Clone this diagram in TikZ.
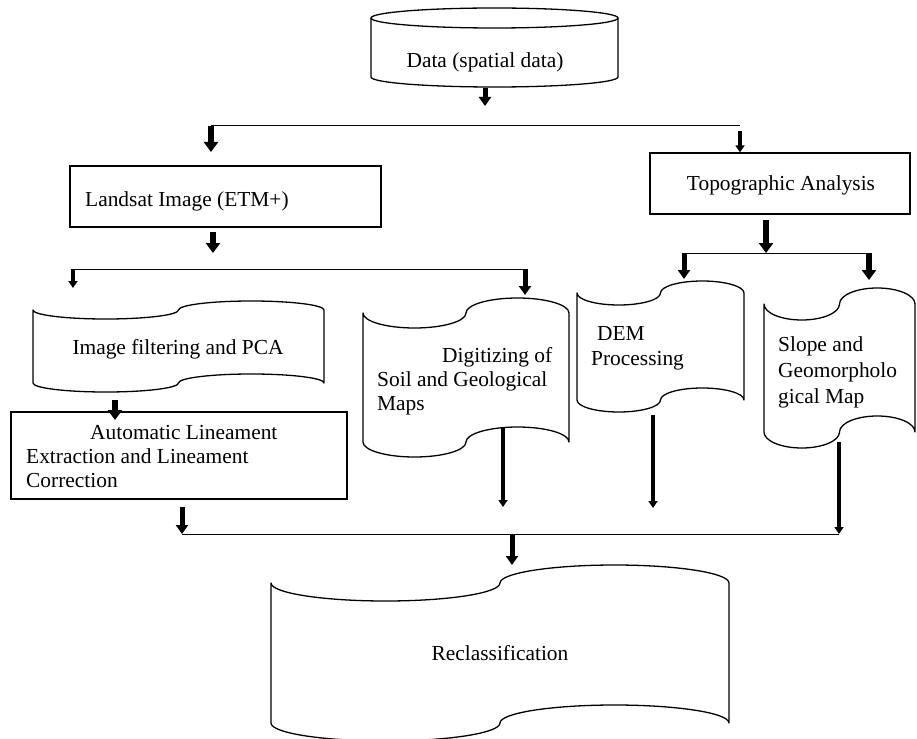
\documentclass[tikz,border=0pt]{standalone}
\usepackage{fontspec}
\setmainfont{Liberation Serif}
\usetikzlibrary{arrows.meta}
\newcommand{\txtlines}[1]{\begin{tabular}[t]{@{}l@{}}#1\end{tabular}}
\newcommand{\flagpath}[5]{%
  \pgfmathsetmacro{\fq}{(#2-#1)/4}%
  \draw[flagline] (#1,#3)
    arc[start angle=180,end angle=0,x radius=\fq,y radius=#5]
    arc[start angle=180,end angle=360,x radius=\fq,y radius=#5]
    -- (#2,#4)
    arc[start angle=0,end angle=-180,x radius=\fq,y radius=#5]
    arc[start angle=0,end angle=180,x radius=\fq,y radius=#5]
    -- cycle;}
\begin{document}
\begin{tikzpicture}[x=1pt,y=-1pt,
  font=\fontsize{21.4}{24}\selectfont,
  flagline/.style={draw=black,line width=1.3pt,line join=round},
  boxnode/.style={draw=black,line width=1.3pt,inner sep=0pt},
  conn/.style={draw=black,line width=1pt},
  arrA/.style={line width=6pt,-{Triangle[width=14pt,length=10pt]}},
  arrB/.style={line width=5pt,-{Triangle[width=12pt,length=9pt]}},
  arrC/.style={line width=3.5pt,-{Triangle[width=9pt,length=7pt]}},
  lbl/.style={inner sep=0pt,anchor=base west},
  lblc/.style={inner sep=0pt,anchor=base}]
\useasboundingbox (0,0) rectangle (917,738);

% ---- top cylinder
\draw[flagline] (494.5,18) ellipse[x radius=123.5,y radius=10];
\draw[flagline] (371,18) -- (371,77)
  arc[start angle=180,end angle=0,x radius=123.5,y radius=10] -- (618,18);
\node[lblc] (data) at (485,68) {Data (spatial data)};

% ---- rectangles
\node[boxnode,minimum width=311pt,minimum height=61pt] (landsat) at (225.5,196.5) {};
\node[lbl] (landsatT) at (85,206) {Landsat Image (ETM+)};
\node[boxnode,minimum width=260pt,minimum height=61pt] (topo) at (780,183.5) {};
\node[lblc] (topoT) at (781,190) {Topographic Analysis};
\node[boxnode,minimum width=336pt,minimum height=87pt] (auto) at (179,455.5) {};
\node[lbl] (autoT) at (26,439) {\txtlines{\hspace*{64pt}Automatic Lineament\\Extraction and Lineament\\Correction}};

% ---- tape shapes
\flagpath{33}{324}{310}{383}{9}
\node[lblc] (pca) at (178,354) {Image filtering and PCA};
\flagpath{363}{569}{313}{442}{15}
\node[lbl] (dig) at (377,362) {\txtlines{\hspace*{65pt}Digitizing of\\Soil and Geological\\Maps}};
\flagpath{577}{744}{293}{400}{12}
\node[lbl,font=\fontsize{21.4}{25}\selectfont] (dem) at (591,340) {\txtlines{\hspace*{6pt}DEM\\Processing}};
\flagpath{764}{915}{304}{432}{16}
\node[lbl,font=\fontsize{21.4}{26}\selectfont] (slope) at (778,351) {\txtlines{Slope and\\Geomorpholo\\gical Map}};
\flagpath{271}{729}{583}{723}{18}
\node[lblc] (recl) at (500,660) {Reclassification};

% ---- junction coordinates
\coordinate (dataOut) at (485,88);   \coordinate (dataEnd) at (485,106);
\coordinate (j1L) at (211,126);      \coordinate (j1R) at (740,126);
\coordinate (landIn) at (211,152);
\coordinate (topoFrom) at (740,131);
\coordinate (landOut) at (213,232);  \coordinate (landEnd) at (213,253);
\coordinate (j2L) at (73,269);       \coordinate (j2R) at (525,269);
\coordinate (pcaIn) at (73,288);     \coordinate (digIn) at (525,295);
\coordinate (topoOut) at (766,220);
\coordinate (j3L) at (684,253);      \coordinate (j3R) at (871,253);
\coordinate (demIn) at (684,279);    \coordinate (slopeIn) at (869,280);
\coordinate (pcaOut) at (115,400);   \coordinate (autoIn) at (115,420);
\coordinate (autoOut) at (182,507);
\coordinate (j4L) at (182,534);      \coordinate (j4R) at (839,534);
\coordinate (digOut) at (503,428);   \coordinate (digEnd) at (503,507);
\coordinate (demOut) at (653,415);   \coordinate (demEnd) at (653,508);
\coordinate (slopeOut) at (839,442);
\coordinate (j4M) at (512,534);      \coordinate (reclIn) at (512,565);

% ---- connectors
\draw[arrB] (dataOut) -- (dataEnd);
\draw[conn] (j1L) -- (j1R);
\draw[arrA] (j1L) -- (landIn);
\draw[arrC] (topoFrom) -- (topo.north -| topoFrom);
\draw[arrA] (landOut) -- (landEnd);
\draw[conn] (j2L) -- (j2R);
\draw[arrC] (j2L) -- (pcaIn);
\draw[arrB] (j2R) -- (digIn);
\draw[arrA] (topoOut) -- (topoOut |- j3L);
\draw[conn] (j3L) -- (j3R);
\draw[arrB] (j3L) -- (demIn);
\draw[arrA] (slopeIn |- j3L) -- (slopeIn);
\draw[arrA] (pcaOut) -- (autoIn);
\draw[arrB] (autoOut) -- (j4L);
\draw[conn] (j4L) -- (j4R);
\draw[arrC] (digOut) -- (digEnd);
\draw[arrC] (demOut) -- (demEnd);
\draw[arrC] (slopeOut) -- (j4R);
\draw[arrB] (j4M) -- (reclIn);
\end{tikzpicture}
\end{document}
